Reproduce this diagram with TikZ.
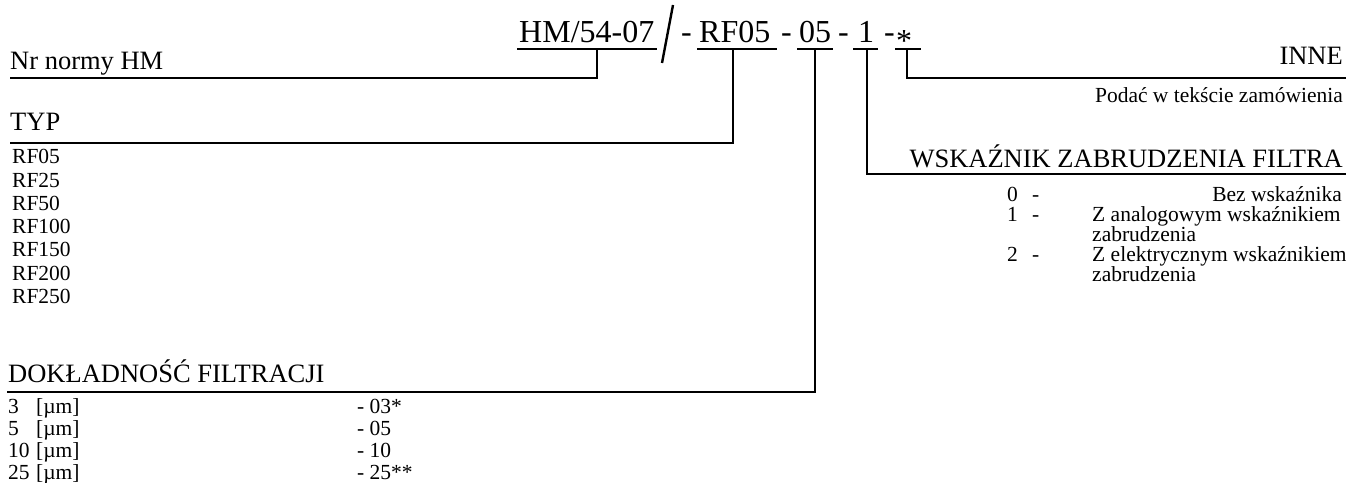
\documentclass[tikz,border=0pt]{standalone}
\usepackage{fontspec}
\setmainfont{Liberation Serif}
\usetikzlibrary{calc,positioning}
\newcommand{\headfont}{\fontsize{26.5}{30}\selectfont}
\newcommand{\itemfont}{\fontsize{21.5}{23}\selectfont}
\newcommand{\codefont}{\fontsize{32}{36}\selectfont}

\begin{document}
\begin{tikzpicture}[x=1pt,y=-1pt,
 head/.style={inner sep=0pt,font=\headfont},
 item/.style={inner sep=0pt,font=\itemfont,anchor=base west},
 code/.style={inner sep=0pt,font=\codefont,anchor=base west},
 lead/.style={line width=2.2pt}]
\useasboundingbox (0,0) rectangle (1346,492);
\clip (0,0) rectangle (1346,482);
% order code
\node[code] (hm) at (519,43) {HM/54-07};
\node[code] (d1) at (681,43) {-};
\node[code] (rf) at (699,43) {RF05};
\node[code] (d2) at (781,43) {-};
\node[code] (flt) at (799,43) {05};
\node[code] (d3) at (838,43) {-};
\node[code] (ind) at (858,43) {1};
\node[code] (d4) at (884,43) {-};
\node[code] (oth) at (896,43) {\raisebox{-9pt}{*}};
\draw[line width=2.4pt] (673,5) -- (662,63);
\foreach \p/\l/\r in {hm/2/2,rf/2/6,flt/2/2,ind/5/4,oth/1/9}
  \draw[lead] ($(\p.base west)+(-\l,6)$) -- ($(\p.base east)+(\r,6)$);
% headings
\node[head,anchor=base west] (nr) at (10,70) {Nr normy HM};
\node[head,anchor=base west] (typ) at (10,131) {TYP};
\node[head,anchor=base west] (dok) at (8,382) {DOKŁADNOŚĆ FILTRACJI};
\node[head,anchor=base east] (inne) at (1343,65) {INNE};
\node[item,anchor=base east] (pod) at (1343,103) {Podać w tekście zamówienia};
\node[head,anchor=base east] (wsk) at (1343,167) {WSKAŹNIK ZABRUDZENIA FILTRA};
% leaders
\draw[lead] ($(hm.base)+(10,6)$) |- ($(nr.base west)+(0,8)$);
\draw[lead] ($(rf.base)+(-2,6)$) |- ($(typ.base west)+(0,12)$);
\draw[lead] ($(flt.base)+(0,6)$) |- ($(dok.base west)+(-1,10)$);
\draw[lead] ($(ind.base)+(1,6)$) |- ($(wsk.base east)+(3,7)$);
\draw[lead] ($(oth.base)+(3,6)$) |- ($(inne.base east)+(3,13)$);
% type list
\foreach \t [count=\k from 0] in {RF05,RF25,RF50,RF100,RF150,RF200,RF250}
  \node[item] (typ-\k) at (12,164+23.2*\k) {\t};
% filtration list
\foreach \n/\c [count=\k from 0] in {3/03*,5/05,10/10,25/25**}{
  \node[item] (mic-\k) at (8,413+22.3*\k) {\n};
  \node[item] (unit-\k) at (36,413+22.3*\k) {[µm]};
  \node[item] (cod-\k) at (357,413+22.3*\k) {- \c};
}
% indicator list
\foreach \n/\y in {0/201,1/221,2/261}{
  \node[item,anchor=base east] (num-\n) at (1018,\y) {\n};
  \node[item] (dash-\n) at (1032,\y) {-};
}
\node[item,anchor=base east] (none) at (1342,201) {Bez wskaźnika};
\node[item] (ana) at (1092,221) {Z analogowym wskaźnikiem};
\node[item] (ana2) at (1092,241) {zabrudzenia};
\node[item] (ele) at (1092,261) {Z elektrycznym wskaźnikiem};
\node[item] (ele2) at (1092,281) {zabrudzenia};
\end{tikzpicture}
\end{document}
